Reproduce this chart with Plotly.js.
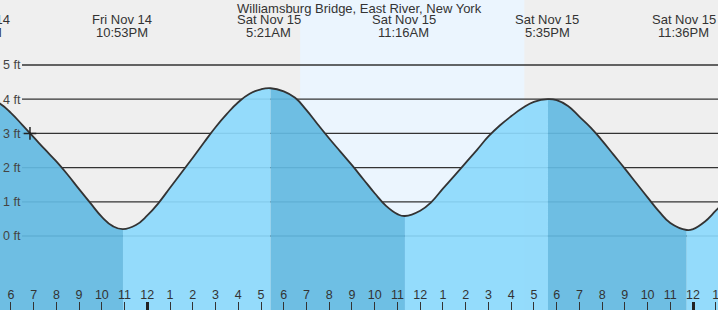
<!DOCTYPE html>
<html><head><meta charset="utf-8">
<script src="https://cdn.plot.ly/plotly-3.0.1.min.js"></script>
<style>html,body{margin:0;padding:0;background:#fff}#chart{width:718px;height:310px}</style>
</head><body><div id="chart"></div>
<script>
const stationTitle = 'Williamsburg Bridge, East River, New York';
// time in hours relative to Sat Nov 15 00:00, heights in ft
const tideHours = [-8, -7.5, -7, -6.5, -6, -5.5, -5, -4.5, -4, -3.5, -3, -2.5, -2, -1.5, -1.07, -0.5, 0, 0.5, 1, 1.5, 2, 2.5, 3, 3.5, 4, 4.5, 5, 5.42, 6, 6.5, 7, 7.5, 8, 8.5, 9, 9.5, 10, 10.5, 11, 11.33, 12, 12.5, 13, 13.5, 14, 14.5, 15, 15.5, 16, 16.5, 17, 17.62, 18, 18.5, 19, 19.5, 20, 20.5, 21, 21.5, 22, 22.5, 23, 23.72, 24, 24.5, 25, 25.5, 26];
const tideFeet  = [4.07, 4.1, 4.03, 3.88, 3.6, 3.25, 2.89, 2.53, 2.18, 1.79, 1.37, 0.96, 0.56, 0.28, 0.2, 0.32, 0.6, 0.97, 1.41, 1.85, 2.29, 2.74, 3.18, 3.57, 3.91, 4.16, 4.29, 4.32, 4.23, 4.04, 3.68, 3.26, 2.85, 2.46, 2.07, 1.66, 1.25, 0.88, 0.64, 0.585, 0.74, 1.0, 1.385, 1.76, 2.14, 2.52, 2.91, 3.23, 3.5, 3.74, 3.92, 4.0, 3.97, 3.8, 3.49, 3.17, 2.79, 2.38, 1.97, 1.55, 1.13, 0.72, 0.38, 0.175, 0.2, 0.41, 0.74, 1.09, 1.5];
const extremeHours = [-7.37, -1.117, 5.35, 11.267, 17.583, 23.6];
const extremeDays  = ['Fri Nov 14', 'Fri Nov 14', 'Sat Nov 15', 'Sat Nov 15', 'Sat Nov 15', 'Sat Nov 15'];
const extremeClock = ['4:38PM', '10:53PM', '5:21AM', '11:16AM', '5:35PM', '11:36PM'];
const sunriseHour = 6.72;
const sunsetHour = 16.58;
const nowHour = [-5.16];
const nowFeet = [3.0];
const hourTicks  = [-6,-5,-4,-3,-2,-1,0,1,2,3,4,5,6,7,8,9,10,11,12,13,14,15,16,17,18,19,20,21,22,23,24,25];
const hourLabels = ['6','7','8','9','10','11','12','1','2','3','4','5','6','7','8','9','10','11','12','1','2','3','4','5','6','7','8','9','10','11','12','1'];
const midnightTicks = [0, 24];
const feetTicks  = [0, 1, 2, 3, 4, 5];
const feetLabels = ['0 ft', '1 ft', '2 ft', '3 ft', '4 ft', '5 ft'];
const viewHours = [-6.478, 25.097];
const viewFeet  = [-2.164, 6.90];

const FONT = 'Liberation Sans, Arial, sans-serif';
const TXT = '#333';
const fallColor = 'rgba(99,186,226,0.92)';
const riseColor = 'rgba(140,217,252,0.92)';
const SMOOTH = 1.3;

// split the curve into rising / falling segments at its turning points
const cut = [0];
for (let i = 1; i < tideFeet.length - 1; i++) {
  const d1 = tideFeet[i] - tideFeet[i - 1], d2 = tideFeet[i + 1] - tideFeet[i];
  if (d1 * d2 < 0) cut.push(i);
}
cut.push(tideFeet.length - 1);
const traces = [];
for (let s = 0; s < cut.length - 1; s++) {
  const a = cut[s], b = cut[s + 1];
  const xs = tideHours.slice(a, b + 1), ys = tideFeet.slice(a, b + 1);
  const falling = ys[ys.length - 1] < ys[0];
  traces.push({x: xs, y: xs.map(() => viewFeet[0]), mode: 'lines', line: {width: 0}, hoverinfo: 'skip', showlegend: false});
  traces.push({x: xs, y: ys, mode: 'lines', line: {width: 0, shape: 'spline', smoothing: SMOOTH}, fill: 'tonexty',
    fillcolor: falling ? fallColor : riseColor, hoverinfo: 'skip', showlegend: false});
}
traces.push({x: tideHours, y: tideFeet, mode: 'lines', line: {color: '#333', width: 1.8, shape: 'spline', smoothing: SMOOTH}, hoverinfo: 'skip', showlegend: false});
traces.push({x: nowHour, y: nowFeet, mode: 'markers', marker: {symbol: 'cross-thin', size: 9, line: {color: '#222', width: 1.5}}, hoverinfo: 'skip', showlegend: false});
// invisible trace to activate xaxis2 for the midnight ticks
traces.push({x: midnightTicks, y: [viewFeet[0], viewFeet[0]], xaxis: 'x2', mode: 'markers', marker: {opacity: 0}, hoverinfo: 'skip', showlegend: false});

const span = viewHours[1] - viewHours[0];
const annotations = [{text: stationTitle, xref: 'paper', yref: 'paper', x: 0.5, y: 1, yanchor: 'middle', yshift: -8, showarrow: false, font: {family: FONT, size: 13, color: TXT}}];
extremeHours.forEach((h, i) => {
  const px = (h - viewHours[0]) / span;
  annotations.push({text: extremeDays[i], xref: 'paper', yref: 'paper', x: px, y: 1, xanchor: 'center', yanchor: 'middle', yshift: -19, showarrow: false, font: {family: FONT, size: 13, color: TXT}});
  annotations.push({text: extremeClock[i], xref: 'paper', yref: 'paper', x: px, y: 1, xanchor: 'center', yanchor: 'middle', yshift: -32, showarrow: false, font: {family: FONT, size: 13, color: TXT}});
});

const shapes = [{type: 'rect', xref: 'x', yref: 'paper', x0: sunriseHour, x1: sunsetHour, y0: 0, y1: 1, fillcolor: '#EBF5FE', line: {width: 0}, layer: 'below'}];
feetTicks.forEach(v => shapes.push({type: 'line', xref: 'paper', yref: 'y', x0: 22 / 718, x1: 1, y0: v, y1: v, line: {color: '#333', width: 1.3}, layer: 'below'}));

const layout = {
  width: 718, height: 310, margin: {l: 0, r: 0, t: 0, b: 0},
  paper_bgcolor: '#EFEFEF', plot_bgcolor: '#EFEFEF', showlegend: false,
  xaxis: {range: viewHours, tickvals: hourTicks, ticktext: hourLabels, ticks: 'inside', ticklen: 8, tickwidth: 1, tickcolor: '#333',
    ticklabelposition: 'inside', ticklabeloverflow: 'allow', tickfont: {family: FONT, size: 12.5, color: TXT}, showgrid: false, zeroline: false, showline: false, fixedrange: true},
  xaxis2: {range: viewHours, overlaying: 'x', side: 'bottom', tickvals: midnightTicks, ticks: 'inside', ticklen: 8, tickwidth: 3, tickcolor: '#222',
    showticklabels: false, showgrid: false, zeroline: false, showline: false, fixedrange: true},
  yaxis: {range: viewFeet, tickvals: feetTicks, ticktext: feetLabels, ticks: '', ticklabelposition: 'inside', ticklabeloverflow: 'allow', tickfont: {family: FONT, size: 12.5, color: '#444'},
    showgrid: false, zeroline: false, showline: false, fixedrange: true},
  annotations: annotations, shapes: shapes
};
Plotly.newPlot('chart', traces, layout, {staticPlot: true, displayModeBar: false});
</script></body></html>
